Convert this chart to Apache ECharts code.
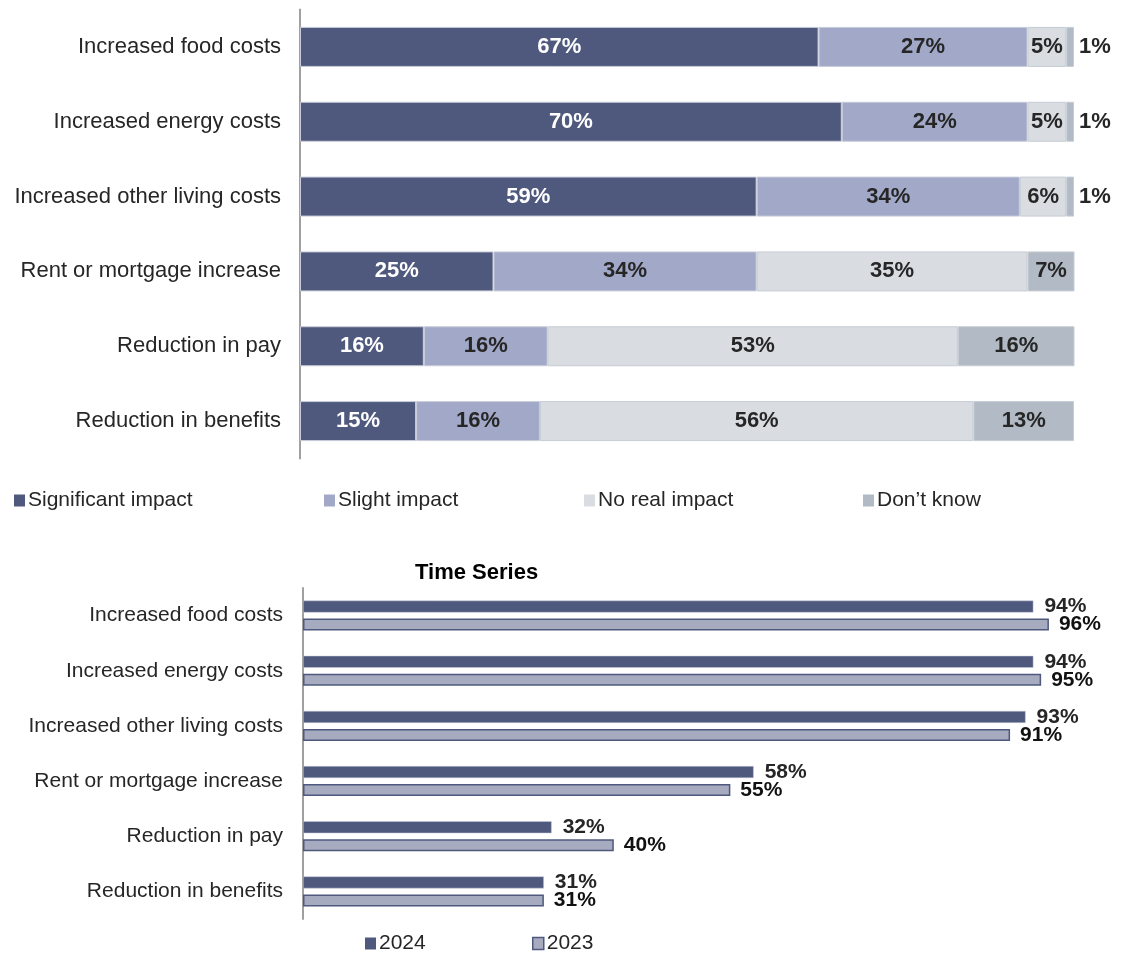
<!DOCTYPE html>
<html>
<head>
<meta charset="utf-8">
<title>Impact of rising costs</title>
<script src="https://cdn.jsdelivr.net/npm/echarts@6/dist/echarts.min.js"></script>
<style>
  html, body { margin: 0; padding: 0; background: #ffffff; }
  #chart { width: 1128px; height: 954px; }
</style>
</head>
<body>
<div id="chart"></div>
<script>
// Categories shared by both panels (top to bottom)
const categories = [
  'Increased food costs',
  'Increased energy costs',
  'Increased other living costs',
  'Rent or mortgage increase',
  'Reduction in pay',
  'Reduction in benefits'
];

// Impact breakdown (%), one array per response
const significantImpact = [67, 70, 59, 25, 16, 15];
const slightImpact      = [27, 24, 34, 34, 16, 16];
const noRealImpact      = [5, 5, 6, 35, 53, 56];
const dontKnow          = [1, 1, 1, 7, 16, 13];

// Time series: share affected (%)
const year2024 = [94, 94, 93, 58, 32, 31];
const year2023 = [96, 95, 91, 55, 40, 31];

const FONT = '"Liberation Sans", Arial, Helvetica, sans-serif';
const DARK = '#262626';

const colSignificant = '#4f597e';
const colSlight = '#a2a9c8';
const colNoReal = '#d9dde2';
const colDontKnow = '#b1bac5';
const col2023 = '#a6abbf';

function stackSeries(name, values, color, border, labelColor) {
  return {
    name: name,
    type: 'bar',
    stack: 'impact',
    xAxisIndex: 0,
    yAxisIndex: 0,
    barWidth: 40,
    itemStyle: { color: color, borderColor: border, borderWidth: 1 },
    label: {
      show: true,
      position: 'inside',
      formatter: '{c}%',
      color: labelColor,
      fontFamily: FONT,
      fontWeight: 'bold',
      fontSize: 22
    },
    // very thin slices carry their label just outside the bar end
    data: values.map(v => v <= 2
      ? { value: v, label: { position: 'right', distance: 5, color: DARK } }
      : v),
    emphasis: { disabled: true }
  };
}

function legendAt(left, top, name, keepBorder) {
  return {
    left: left,
    top: top,
    data: [name],
    icon: 'rect',
    itemWidth: 11,
    itemHeight: 12,
    itemGap: 0,
    selectedMode: false,
    itemStyle: keepBorder ? { borderColor: colSignificant, borderWidth: 1.5 } : { borderWidth: 0 },
    textStyle: { fontFamily: FONT, fontSize: 21, color: DARK, padding: [0, 0, 0, -2] }
  };
}

const chart = echarts.init(document.getElementById('chart'), null, { renderer: 'canvas' });

chart.setOption({
  animation: false,
  textStyle: { fontFamily: FONT },
  title: {
    text: 'Time Series',
    left: 410,
    top: 557,
    textStyle: { fontFamily: FONT, fontSize: 22, fontWeight: 'bold', color: '#000000' }
  },
  legend: [
    legendAt(9, 485, 'Significant impact'),
    legendAt(319, 485, 'Slight impact'),
    legendAt(579, 485, 'No real impact'),
    legendAt(858, 485, 'Don\u2019t know'),
    legendAt(360, 928, '2024'),
    legendAt(527, 928, '2023', true)
  ],
  grid: [
    { left: 300, top: 9.5, width: 774, height: 449 },
    { left: 303, top: 588, width: 777, height: 331 }
  ],
  xAxis: [
    { gridIndex: 0, type: 'value', min: 0, max: 100, show: false },
    { gridIndex: 1, type: 'value', min: 0, max: 100, show: false }
  ],
  yAxis: [
    {
      gridIndex: 0,
      type: 'category',
      data: categories,
      inverse: true,
      axisLine: { show: true, lineStyle: { color: '#a0a0a0', width: 2 } },
      axisTick: { show: false },
      axisLabel: { fontFamily: FONT, fontSize: 22, color: DARK, margin: 19 }
    },
    {
      gridIndex: 1,
      type: 'category',
      data: categories,
      inverse: true,
      axisLine: { show: true, lineStyle: { color: '#a0a0a0', width: 2 } },
      axisTick: { show: false },
      axisLabel: { fontFamily: FONT, fontSize: 21, color: DARK, margin: 20 }
    }
  ],
  series: [
    stackSeries('Significant impact', significantImpact, colSignificant, '#c9ccd8', '#ffffff'),
    stackSeries('Slight impact', slightImpact, colSlight, '#c9ccd8', DARK),
    stackSeries('No real impact', noRealImpact, colNoReal, '#c6ccd5', DARK),
    stackSeries('Don\u2019t know', dontKnow, colDontKnow, '#c6ccd5', DARK),
    {
      name: '2024',
      type: 'bar',
      xAxisIndex: 1,
      yAxisIndex: 1,
      barWidth: 12,
      barGap: '50%',
      itemStyle: { color: colSignificant, borderColor: '#c9ccd8', borderWidth: 0.5 },
      label: {
        show: true, position: 'right', distance: 11, formatter: '{c}%',
        fontFamily: FONT, fontSize: 21, fontWeight: 'bold', color: DARK
      },
      data: year2024,
      emphasis: { disabled: true }
    },
    {
      name: '2023',
      type: 'bar',
      xAxisIndex: 1,
      yAxisIndex: 1,
      barWidth: 12,
      barGap: '50%',
      itemStyle: { color: col2023, borderColor: colSignificant, borderWidth: 1.5 },
      label: {
        show: true, position: 'right', distance: 10, formatter: '{c}%',
        fontFamily: FONT, fontSize: 21, fontWeight: 'bold', color: '#111111'
      },
      data: year2023,
      emphasis: { disabled: true }
    }
  ]
});
</script>
</body>
</html>
